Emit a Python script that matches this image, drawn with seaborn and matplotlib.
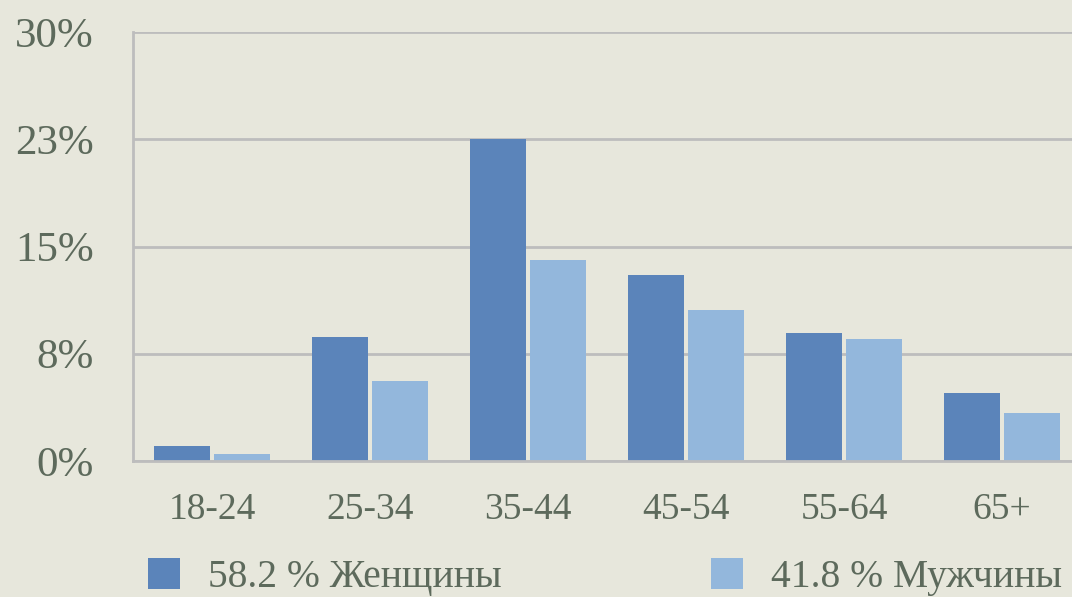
import numpy as np
import pandas as pd
import matplotlib.pyplot as plt
import seaborn as sns

# ---------------------------------------------------------------------------
# Data
# ---------------------------------------------------------------------------
AGE_GROUPS = ['18-24', '25-34', '35-44', '45-54', '55-64', '65+']
WOMEN = [1.05, 8.7, 22.5, 13.0, 8.95, 4.75]
MEN = [0.5, 5.6, 14.05, 10.55, 8.5, 3.35]
SERIES = ['58.2 % Женщины', '41.8 % Мужчины']
Y_TICKS = [0, 7.5, 15, 22.5, 30]
Y_LABELS = ['0%', '8%', '15%', '23%', '30%']

df = pd.DataFrame({
    'age': AGE_GROUPS * 2,
    'share': WOMEN + MEN,
    'series': [SERIES[0]] * len(AGE_GROUPS) + [SERIES[1]] * len(AGE_GROUPS),
})

BG = '#e7e7dc'
TEXT = '#5d6a5c'
GRID = '#bdbdbd'
palette = {SERIES[0]: '#5b84ba', SERIES[1]: '#93b7dc'}

sns.set_style('white')
plt.rcParams['font.family'] = ['Liberation Serif', 'DejaVu Serif']

fig = plt.figure(figsize=(10.72, 5.97), dpi=100, facecolor=BG)
ax = fig.add_axes([133 / 1072, 136 / 597, 948 / 1072, 429 / 597])
ax.set_facecolor(BG)

sns.barplot(data=df, x='age', y='share', hue='series', order=AGE_GROUPS,
            hue_order=SERIES, palette=palette, width=0.76, gap=0.06,
            saturation=1, edgecolor='none', ax=ax)

ax.set_ylim(0, 30)
ax.set_xlim(-0.5, len(AGE_GROUPS) - 0.5)
ax.set_yticks(Y_TICKS)
ax.set_yticklabels(Y_LABELS)
ax.set_xlabel('')
ax.set_ylabel('')
ax.grid(axis='y', color=GRID, linewidth=2)
ax.set_axisbelow(True)
for side in ['top', 'right']:
    ax.spines[side].set_visible(False)
for side in ['left', 'bottom']:
    ax.spines[side].set_color(GRID)
    ax.spines[side].set_linewidth(2)

ax.tick_params(axis='y', length=0, pad=28, labelsize=31, labelcolor=TEXT)
ax.tick_params(axis='x', length=0, pad=23, labelsize=27, labelcolor=TEXT)

ax.legend(loc='upper left', bbox_to_anchor=(15 / 948, -0.227), ncol=2,
          frameon=False, fontsize=28.5, labelcolor=TEXT,
          handlelength=0.81, handleheight=0.81, handletextpad=0.7,
          columnspacing=5.3, borderaxespad=0, borderpad=0)

fig.savefig('out.png', dpi=100, facecolor=BG)
